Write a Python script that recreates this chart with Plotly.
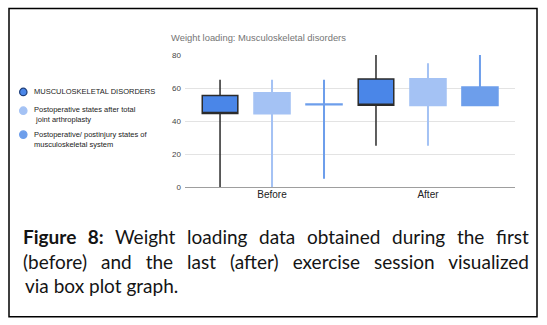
import json
import re

import plotly.graph_objects as go

# ---- data -------------------------------------------------------------
sessions = ["Before", "After"]

series_names = [
    "MUSCULOSKELETAL DISORDERS",
    "Postoperative states after total<br> joint arthroplasty",
    "Postoperative/ postinjury states of<br>musculoskeletal system",
]

# low / q1 / q3 / high per session (Before, After)
low_vals = [[0, 25], [0, 25], [5, 49.5]]
q1_vals = [[44.5, 49.5], [44.5, 49.5], [50.0, 49.5]]
q3_vals = [[55.5, 65.5], [57, 65.5], [50.2, 60.5]]
high_vals = [[65, 80], [65, 75], [65, 80]]

y_ticks = [0, 20, 40, 60, 80]

chart_title = "Weight loading: Musculoskeletal disorders"
caption_lines = [
    "<b>Figure 8:</b> Weight loading data obtained during the first",
    "(before) and the last (after) exercise session visualized",
    "via box plot graph.",
]

# ---- styling ------------------------------------------------------------
fills = ["#4a86e8", "#a4c2f4", "#6d9eeb"]
edges = ["#2b2b2b", "#a4c2f4", "#6d9eeb"]
edge_w = [1.5, 2, 2]
legend_edges = ["#1f3f7a", "#a4c2f4", "#6d9eeb"]

W, H = 547, 325
PL, PR, PT, PB = 185, 515, 54.7, 187  # plot area in pixels
CAP_LEFT, CAP_RIGHT = 23, 529          # caption text block


def px_x(px):
    return (px - PL) / (PR - PL)


def px_y(py):
    return (PB - py) / (PB - PT)


fig = go.Figure()

for i, name in enumerate(series_names):
    fig.add_trace(go.Box(
        x=sessions,
        lowerfence=low_vals[i],
        q1=q1_vals[i],
        median=q1_vals[i],
        q3=q3_vals[i],
        upperfence=high_vals[i],
        fillcolor=fills[i],
        line=dict(color=edges[i], width=edge_w[i]),
        whiskerwidth=0,
        boxpoints=False,
        showlegend=False,
        hoverinfo="skip",
        name=re.sub(r"<br>\s*", " ", name),
    ))

shapes = [dict(type="rect", xref="paper", yref="paper",
               x0=px_x(9), x1=px_x(537), y0=px_y(317), y1=px_y(8),
               line=dict(color="#000", width=1.5), fillcolor="rgba(0,0,0,0)",
               layer="above")]

annotations = [dict(
    text=chart_title, xref="paper", yref="paper",
    x=px_x(169), y=px_y(37), xanchor="left", yanchor="middle",
    showarrow=False, font=dict(family="Liberation Sans, Arial", size=9.4, color="#757575"),
)]

# legend: round swatches with labels on the left side
legend_y = [91.7, 114.7, 139.2]
swatch_y = [91.7, 110.5, 134.5]
for i, name in enumerate(series_names):
    shapes.append(dict(
        type="circle", xref="paper", yref="paper",
        xsizemode="pixel", ysizemode="pixel",
        xanchor=px_x(23.3), yanchor=px_y(swatch_y[i]),
        x0=-3.7, x1=3.7, y0=-3.7, y1=3.7,
        fillcolor=fills[i], line=dict(color=legend_edges[i], width=1.2),
    ))
    annotations.append(dict(
        text=name, xref="paper", yref="paper",
        x=px_x(31.5), y=px_y(legend_y[i]), xanchor="left", yanchor="middle",
        align="left", showarrow=False,
        font=dict(family="Liberation Sans, Arial", size=7.5, color="#222"),
    ))

caption_y = [237, 262, 286]
for line, cy in zip(caption_lines, caption_y):
    annotations.append(dict(
        text=line, xref="paper", yref="paper",
        x=px_x(CAP_LEFT), y=px_y(cy), xanchor="left", yanchor="middle",
        showarrow=False, font=dict(family="Lato, Carlito, sans-serif", size=19, color="#141414"),
    ))

fig.update_layout(
    width=W, height=H,
    margin=dict(l=PL, r=W - PR, t=PT, b=H - PB, pad=0),
    paper_bgcolor="white", plot_bgcolor="white",
    boxmode="group", boxgap=0, boxgroupgap=0.316,
    showlegend=False,
    font=dict(family="Liberation Sans, Arial", color="#222"),
    xaxis=dict(
        type="category", range=[-0.558, 1.558],
        showgrid=False, showline=False, zeroline=False, ticks="",
        tickfont=dict(size=10, color="#222"), fixedrange=True,
    ),
    yaxis=dict(
        range=[0, 80], tickvals=y_ticks, showgrid=True, gridcolor="#e3e3e3",
        gridwidth=1, zeroline=True, zerolinecolor="#9e9e9e", zerolinewidth=1,
        showline=False, ticks="", ticklabelstandoff=3,
        tickfont=dict(size=8, color="#444"), fixedrange=True,
    ),
    shapes=shapes,
    annotations=annotations,
)

# Justify every caption line except the last one: stretch the word spacing
# so each line runs from CAP_LEFT to CAP_RIGHT, then pin its left edge.
justify_lines = [re.sub(r"<[^>]+>", "", s) for s in caption_lines[:-1]]
post_js = """
(function () {
  var gd = document.getElementById('{plot_id}');
  var lines = %s;
  var left = %f, right = %f;
  function justify() {
    gd.querySelectorAll('text.annotation-text').forEach(function (t) {
      var s = t.textContent;
      if (lines.indexOf(s) < 0) return;
      var n = (s.match(/ /g) || []).length;
      t.style.wordSpacing = '0px';
      t.removeAttribute('transform');
      var ws = 0;
      for (var k = 0; k < 3; k++) {
        var r = t.getBoundingClientRect();
        ws += (right - left - r.width) / n;
        t.style.wordSpacing = ws + 'px';
      }
      var dx = 0;
      for (var k = 0; k < 3; k++) {
        var r2 = t.getBoundingClientRect();
        dx += left - r2.left;
        t.setAttribute('transform', 'translate(' + dx + ',0)');
      }
    });
  }
  justify();
  if (document.fonts && document.fonts.ready) document.fonts.ready.then(justify);
  setTimeout(justify, 50);
  setTimeout(justify, 300);
})();
""" % (json.dumps(justify_lines), CAP_LEFT, CAP_RIGHT)

fig.write_html("out.html", post_script=post_js)
